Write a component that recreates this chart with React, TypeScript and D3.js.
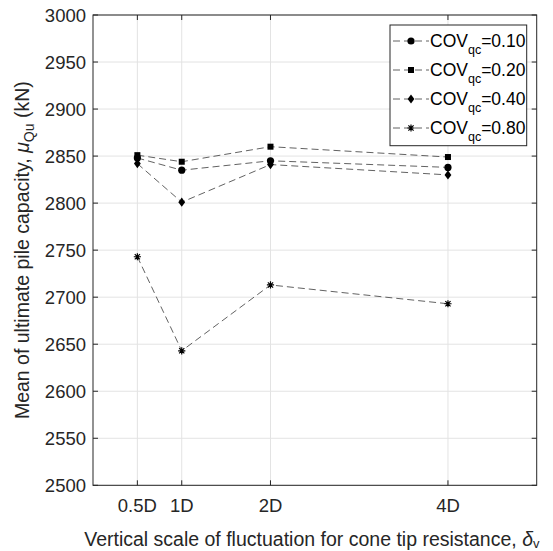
import React from "react";
import * as d3 from "d3";

const xTickValues = [0.5, 1, 2, 4];
const xTickLabels = ["0.5D", "1D", "2D", "4D"];
const yTickValues = [2500, 2550, 2600, 2650, 2700, 2750, 2800, 2850, 2900, 2950, 3000];

const scales = [0.5, 1, 2, 4];
const cov010 = [2848, 2835, 2845, 2838];
const cov020 = [2851, 2844, 2860, 2849];
const cov040 = [2842, 2801, 2841, 2830];
const cov080 = [2743, 2643, 2713, 2693];

const seriesNames = ["0.10", "0.20", "0.40", "0.80"];
const seriesMarkers = ["circle", "square", "diamond", "asterisk"];
const seriesValues = [cov010, cov020, cov040, cov080];

const W = 553;
const H = 551;
const L = 93, R = 536.7, T = 15, B = 485.3;
const TXT = "#262626";
const FONT = "'Liberation Sans', Arial, Helvetica, sans-serif";

function Marker({ type, x, y }: { type: string; x: number; y: number }) {
  if (type === "circle") return <circle cx={x} cy={y} r={3.6} fill="#000" />;
  if (type === "square") return <rect x={x - 3} y={y - 3} width={6} height={6} fill="#000" />;
  if (type === "diamond")
    return <path d={`M${x},${y - 4.6}L${x + 3.4},${y}L${x},${y + 4.6}L${x - 3.4},${y}Z`} fill="#000" />;
  const s = 3.6, d = 2.6;
  return (
    <path
      d={`M${x - s},${y}H${x + s}M${x},${y - s}V${y + s}M${x - d},${y - d}L${x + d},${y + d}M${x - d},${y + d}L${x + d},${y - d}`}
      stroke="#000"
      strokeWidth={1.2}
      fill="none"
    />
  );
}

export default function App() {
  const x = d3.scaleLinear().domain([0, 5]).range([L, R]);
  const y = d3.scaleLinear().domain([2500, 3000]).range([B, T]);
  const line = d3
    .line<number>()
    .x((_, i) => x(scales[i]))
    .y((v) => y(v));

  const legX = 390, legY = 25, legW = 136.7, legH = 120.7;
  const rowY = [41, 70, 99, 128];

  return (
    <svg
      width={W}
      height={H}
      style={{ position: "absolute", left: 0, top: 0, background: "#fff" }}
      fontFamily={FONT}
    >
      <rect x={0} y={0} width={W} height={H} fill="#fff" />
      {/* grid */}
      {xTickValues.map((v) => (
        <line key={"gx" + v} x1={x(v)} x2={x(v)} y1={T} y2={B} stroke="#e3e3e3" strokeWidth={1} />
      ))}
      {yTickValues.map((v) => (
        <line key={"gy" + v} x1={L} x2={R} y1={y(v)} y2={y(v)} stroke="#e3e3e3" strokeWidth={1} />
      ))}
      {/* series */}
      {seriesValues.map((vals, si) => (
        <g key={"s" + si}>
          <path
            d={line(vals) || ""}
            fill="none"
            stroke="#3a3a3a"
            strokeWidth={0.8}
            strokeDasharray="7,4"
          />
          {vals.map((v, i) => (
            <Marker key={i} type={seriesMarkers[si]} x={x(scales[i])} y={y(v)} />
          ))}
        </g>
      ))}
      {/* axes box */}
      <rect x={L} y={T} width={R - L} height={B - T} fill="none" stroke={TXT} strokeWidth={1} />
      {xTickValues.map((v) => (
        <g key={"tx" + v}>
          <line x1={x(v)} x2={x(v)} y1={B} y2={B - 5} stroke={TXT} />
          <line x1={x(v)} x2={x(v)} y1={T} y2={T + 5} stroke={TXT} />
        </g>
      ))}
      {yTickValues.map((v) => (
        <g key={"ty" + v}>
          <line x1={L} x2={L + 5} y1={y(v)} y2={y(v)} stroke={TXT} />
          <line x1={R} x2={R - 5} y1={y(v)} y2={y(v)} stroke={TXT} />
        </g>
      ))}
      {/* tick labels */}
      {xTickValues.map((v, i) => (
        <text key={"lx" + v} x={x(v)} y={512} textAnchor="middle" fontSize={18.5} fill={TXT}>
          {xTickLabels[i]}
        </text>
      ))}
      {yTickValues.map((v) => (
        <text key={"ly" + v} x={86} y={y(v) + 6.5} textAnchor="end" fontSize={18.5} fill={TXT}>
          {v}
        </text>
      ))}
      {/* axis labels */}
      <text x={(L + R) / 2 - 3} y={546} textAnchor="middle" fontSize={19.5} fill={TXT}>
        <tspan>Vertical scale of fluctuation for cone tip resistance, </tspan>
        <tspan fontStyle="italic">δ</tspan>
        <tspan fontSize={13} dy={2}>v</tspan>
      </text>
      <text
        transform={`translate(29,${(T + B) / 2}) rotate(-90)`}
        textAnchor="middle"
        fontSize={19.5}
        fill={TXT}
      >
        <tspan>Mean of ultimate pile capacity, </tspan>
        <tspan fontStyle="italic">μ</tspan>
        <tspan fontSize={14} dy={5}>Qu</tspan>
        <tspan dy={-5}> (kN)</tspan>
      </text>
      {/* legend */}
      <rect x={legX} y={legY} width={legW} height={legH} fill="#fff" stroke={TXT} strokeWidth={1} />
      {seriesNames.map((n, i) => (
        <g key={"lg" + i}>
          <line
            x1={392}
            x2={429}
            y1={rowY[i]}
            y2={rowY[i]}
            stroke="#3a3a3a"
            strokeWidth={0.8}
            strokeDasharray="7,4"
            strokeDashoffset={-1}
          />
          <Marker type={seriesMarkers[i]} x={411} y={rowY[i]} />
          <text x={430} y={rowY[i] + 6} fontSize={17.5} fill="#000">
            <tspan>COV</tspan>
            <tspan fontSize={12.5} dy={7}>qc</tspan>
            <tspan dy={-7}>=0.{n.slice(2)}</tspan>
          </text>
        </g>
      ))}
    </svg>
  );
}
